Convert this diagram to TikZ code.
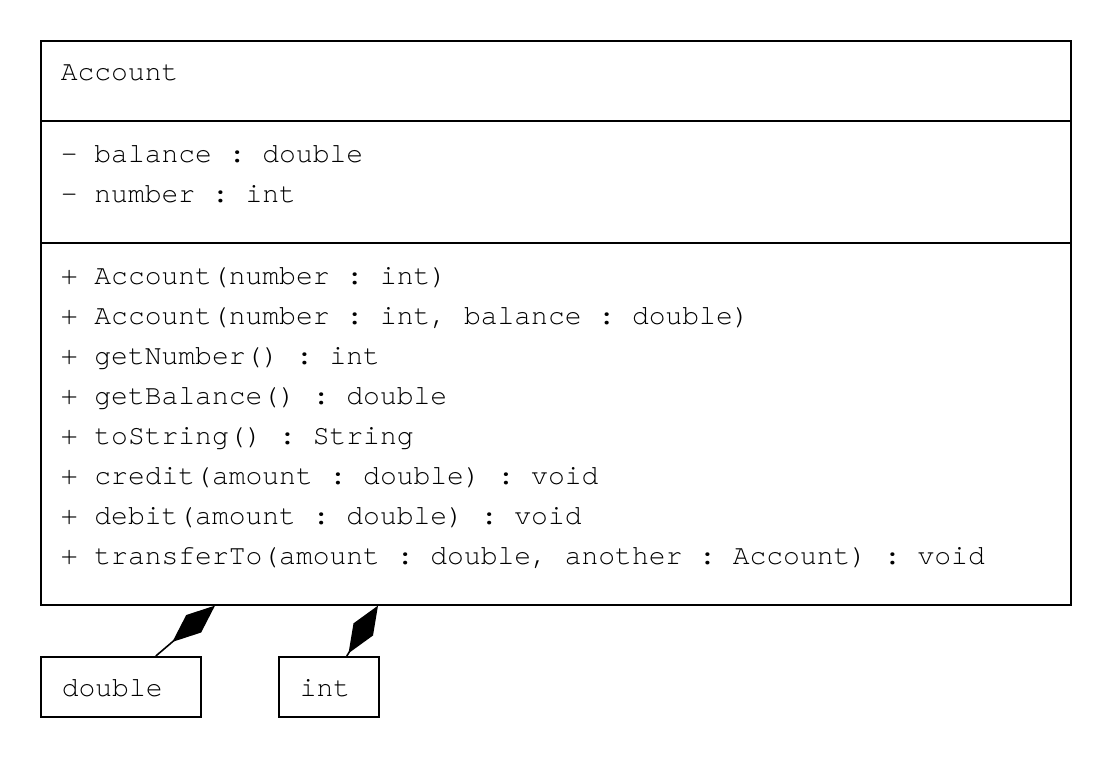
\documentclass[tikz,border=0pt]{standalone}
\usepackage{fontspec}
\setmonofont{texgyrecursor-regular.otf}
\usetikzlibrary{arrows.meta, calc}

\begin{document}
\begin{tikzpicture}[
    x=1pt, y=-1pt,
    line width=1.6pt,
    part/.style={draw, rectangle, minimum width=1030pt, inner sep=0pt, anchor=north west},
    typebox/.style={draw, rectangle, minimum height=60pt, inner sep=0pt, anchor=north west},
    member/.style={anchor=base west, inner sep=0pt, font=\ttfamily\fontsize{28}{40}\selectfont},
    every edge/.append style={-{Diamond[length=56pt, width=23pt, fill=black]}}
]
   \useasboundingbox (0,0) rectangle (1110,756);

   % Class compartments
   \node[part, minimum height=80pt] (title) at (40,40) {};
   \node[part, minimum height=122pt] (attr) at (40,120) {};
   \node[part, minimum height=362pt] (meth) at (40,242) {};

   \node[member] (name) at (60,80) {Account};
   \node[member] (a1) at (60,162) {- balance : double};
   \node[member] (a2) at (60,202) {- number : int};

   % Operations
   \foreach \txt [count=\i] in {%
       {+ Account(number : int)},
       {+ Account(number : int, balance : double)},
       {+ getNumber() : int},
       {+ getBalance() : double},
       {+ toString() : String},
       {+ credit(amount : double) : void},
       {+ debit(amount : double) : void},
       {+ transferTo(amount : double, another : Account) : void}}
     \node[member] (m\i) at (60,244+40*\i) {\txt};

   % Attribute types
   \node[typebox, minimum width=160pt] (dbl) at (40,656) {};
   \node[member] (dbltxt) at (61,696) {double};
   \node[typebox, minimum width=100pt] (int) at (278,656) {};
   \node[member] (inttxt) at (299,696) {int};

   % Compositions
   \path
   ($(dbl.north)+(35,0)$) edge ($(meth.south west)+(175,0)$)
   ($(int.north)+(18,0)$) edge ($(meth.south west)+(338,0)$);
\end{tikzpicture}
\end{document}
